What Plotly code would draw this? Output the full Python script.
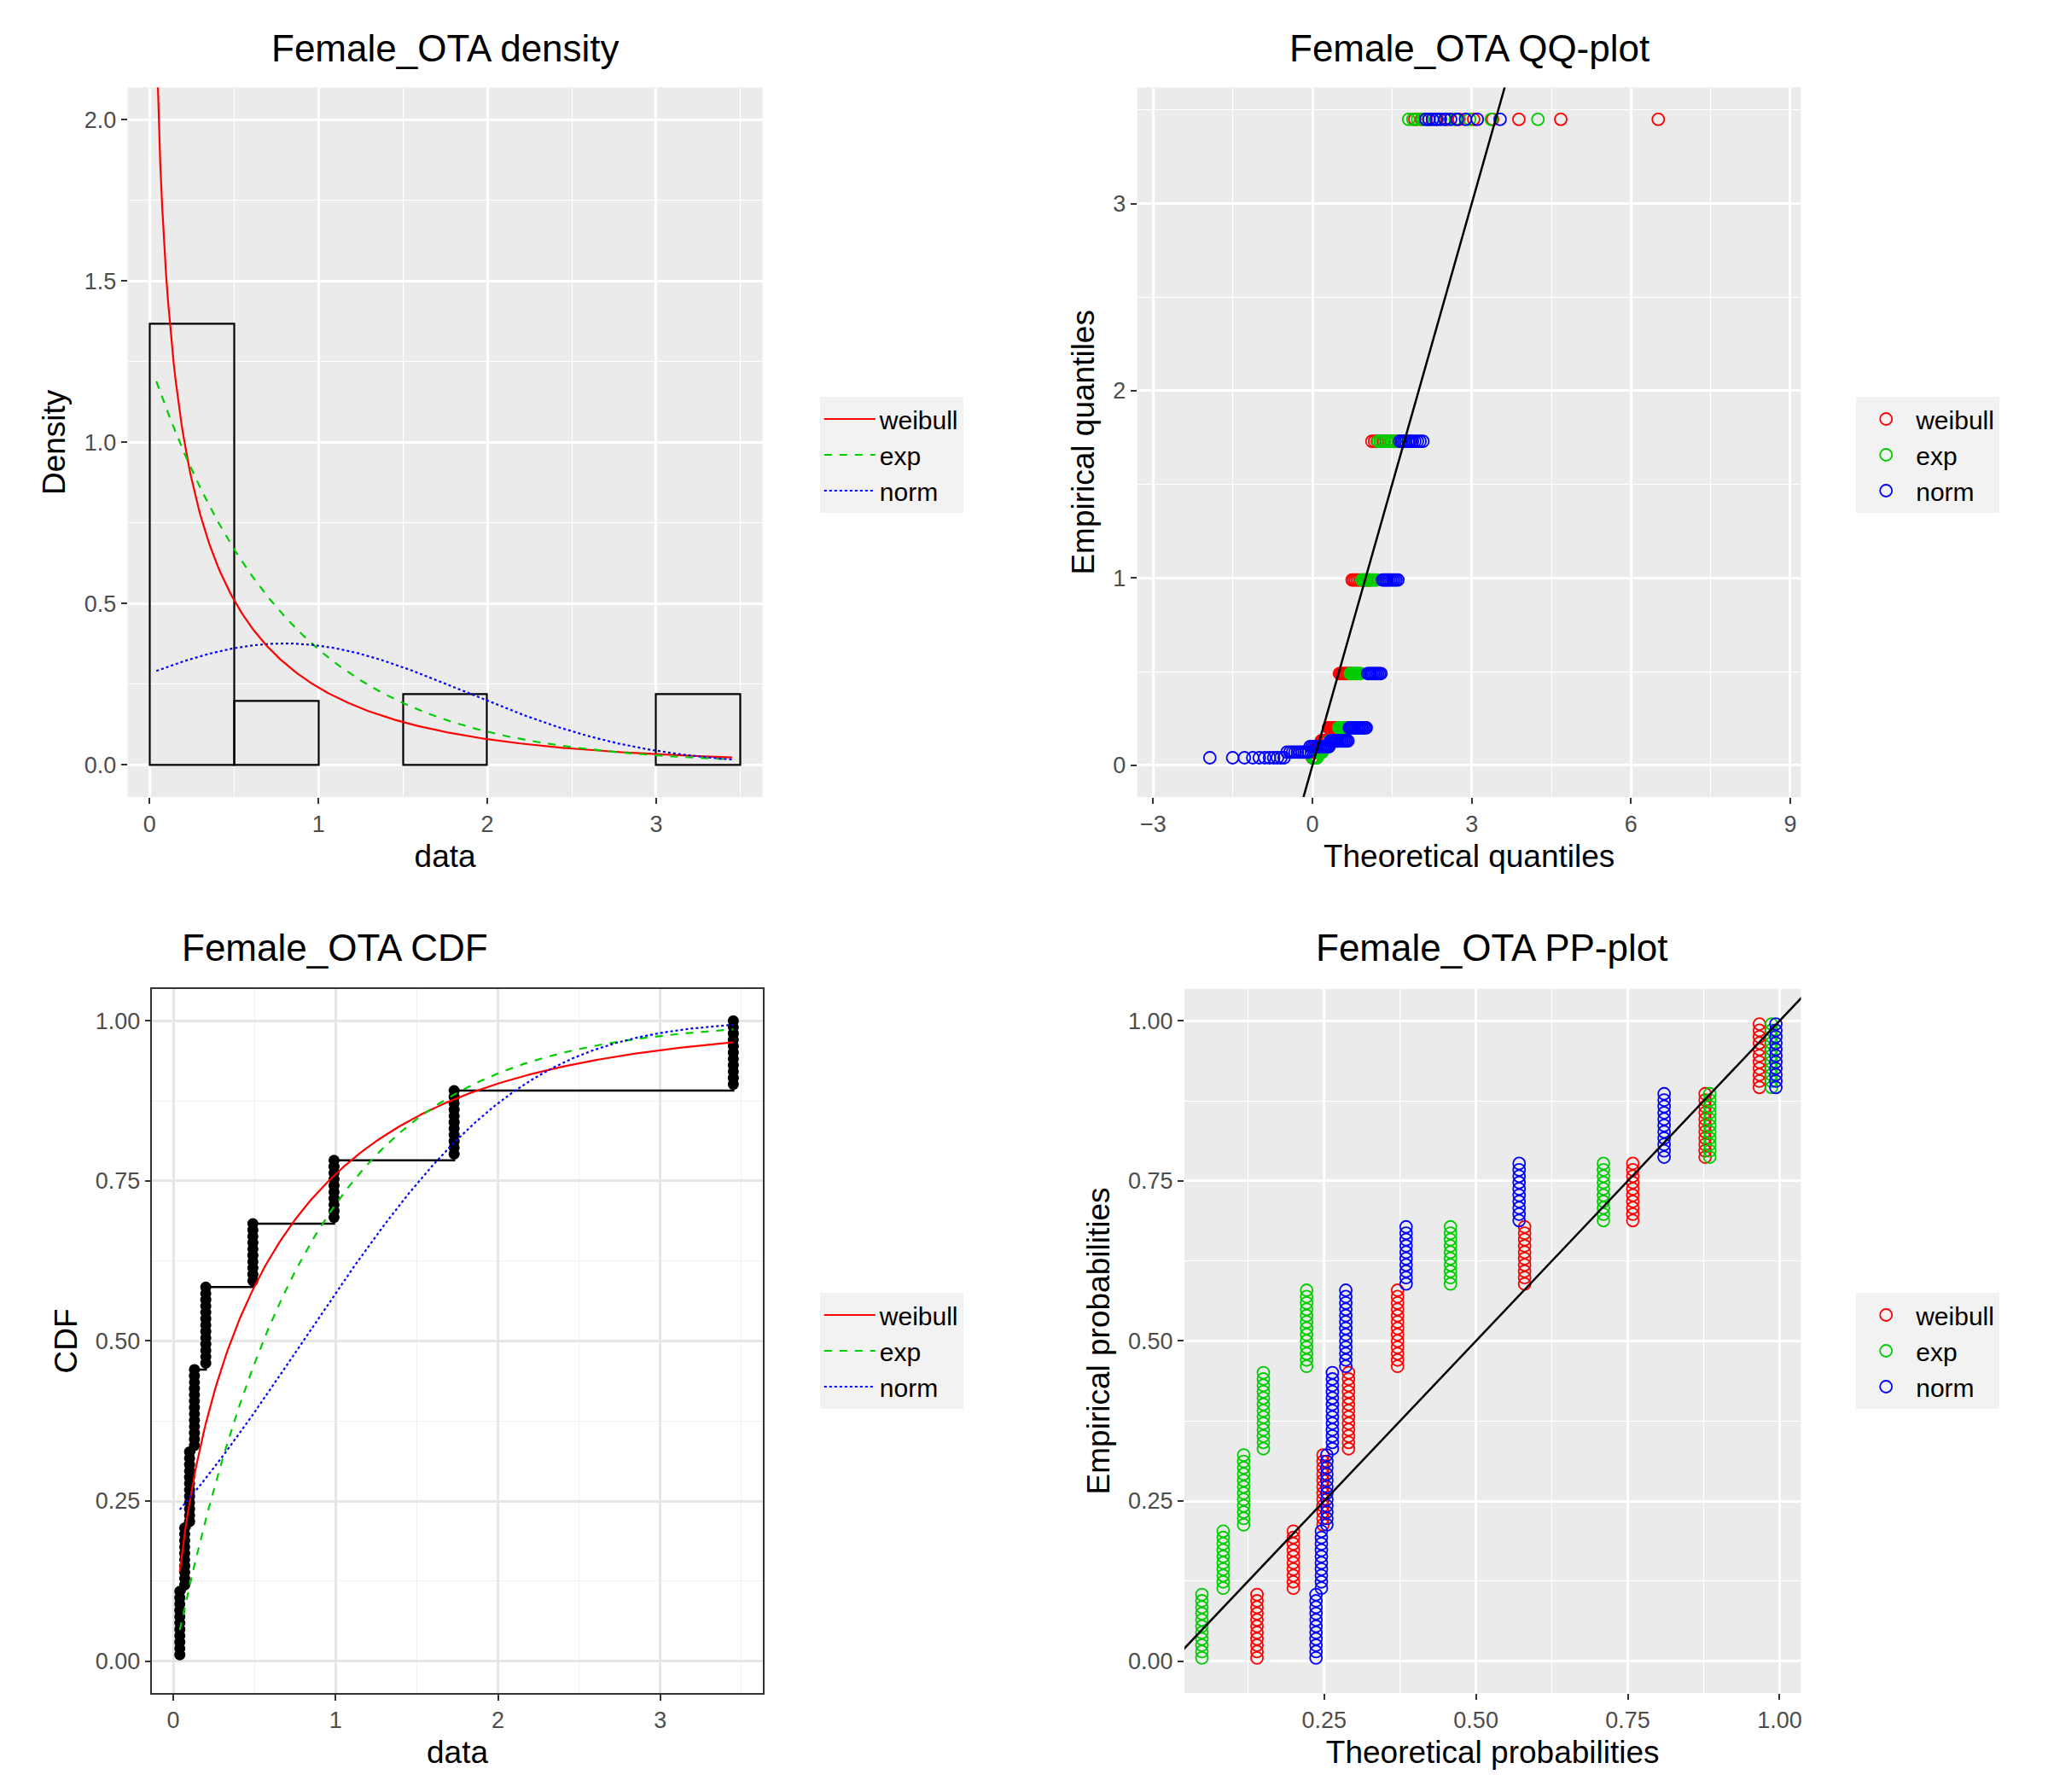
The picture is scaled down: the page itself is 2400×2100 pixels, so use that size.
import numpy as np
import plotly.graph_objects as go
from math import erf, sqrt

# distinct observed values (tied data) and how often each occurs
values = [0.04, 0.07, 0.10, 0.13, 0.20, 0.49, 0.99, 1.73, 3.45]
counts = [11, 10, 12, 13, 13, 10, 10, 11, 11]

# fitted parameters
weib_shape, weib_scale = 0.7, 0.6
exp_rate = 1.25
norm_mean, norm_sd = 0.8, 1.06

dist_names = ['weibull', 'exp', 'norm']
dist_colors = ['#FF0000', '#00CD00', '#0000FF']
dist_dash = ['solid', 'dash', 'dot']

data = np.repeat(values, counts)
n = len(data)


def pdf(name, x):
    if name == 'weibull':
        k, l = weib_shape, weib_scale
        return (k / l) * (x / l) ** (k - 1) * np.exp(-(x / l) ** k)
    if name == 'exp':
        return exp_rate * np.exp(-exp_rate * x)
    return np.exp(-0.5 * ((x - norm_mean) / norm_sd) ** 2) / (norm_sd * np.sqrt(2 * np.pi))


def cdf(name, x):
    if name == 'weibull':
        return 1 - np.exp(-(x / weib_scale) ** weib_shape)
    if name == 'exp':
        return 1 - np.exp(-exp_rate * x)
    return np.array([0.5 * (1 + erf((v - norm_mean) / (norm_sd * sqrt(2)))) for v in np.atleast_1d(x)])


def qnorm(p):
    # bisection inverse of the normal cdf
    lo, hi = np.full_like(p, -10.0), np.full_like(p, 10.0)
    for _ in range(80):
        mid = (lo + hi) / 2
        c = 0.5 * (1 + np.vectorize(erf)(mid / sqrt(2)))
        lo = np.where(c < p, mid, lo)
        hi = np.where(c < p, hi, mid)
    return (lo + hi) / 2


def quantile(name, p):
    if name == 'weibull':
        return weib_scale * (-np.log(1 - p)) ** (1 / weib_shape)
    if name == 'exp':
        return -np.log(1 - p) / exp_rate
    return norm_mean + norm_sd * qnorm(p)


FONT = 'Liberation Sans'
fig = go.Figure()
xs = np.linspace(min(values), max(values), 300)
pp = (np.arange(1, n + 1) - 0.5) / n

# ---- density panel
fig.add_trace(go.Histogram(x=data, histnorm='probability density',
                           xbins=dict(start=0, end=3.5, size=0.5),
                           marker=dict(color='rgba(0,0,0,0)', line=dict(color='black', width=2.2)),
                           showlegend=False, xaxis='x', yaxis='y'))
for nm, col, dsh in zip(dist_names, dist_colors, dist_dash):
    fig.add_trace(go.Scatter(x=xs, y=pdf(nm, xs), mode='lines', name=nm,
                             line=dict(color=col, dash=dsh, width=2.2),
                             xaxis='x', yaxis='y', legend='legend'))

# ---- QQ panel
for nm, col in zip(dist_names, dist_colors):
    fig.add_trace(go.Scatter(x=quantile(nm, pp), y=np.sort(data), mode='markers', name=nm,
                             marker=dict(symbol='circle-open', color=col, size=14, line=dict(width=1.8)),
                             xaxis='x2', yaxis='y2', legend='legend2'))
fig.add_trace(go.Scatter(x=[-3, 9], y=[-3, 9], mode='lines', line=dict(color='black', width=2.5),
                         showlegend=False, xaxis='x2', yaxis='y2'))

# ---- CDF panel
ecdf_y = np.arange(1, n + 1) / n
sd = np.sort(data)
fig.add_trace(go.Scatter(x=sd, y=ecdf_y, mode='lines', line=dict(color='black', width=2.5, shape='hv'),
                         showlegend=False, xaxis='x3', yaxis='y3'))
fig.add_trace(go.Scatter(x=sd, y=ecdf_y, mode='markers', marker=dict(color='black', size=13),
                         showlegend=False, xaxis='x3', yaxis='y3'))
for nm, col, dsh in zip(dist_names, dist_colors, dist_dash):
    fig.add_trace(go.Scatter(x=xs, y=cdf(nm, xs), mode='lines', name=nm,
                             line=dict(color=col, dash=dsh, width=2.2),
                             xaxis='x3', yaxis='y3', legend='legend3'))

# ---- PP panel
for nm, col in zip(dist_names, dist_colors):
    fig.add_trace(go.Scatter(x=cdf(nm, sd), y=pp, mode='markers', name=nm,
                             marker=dict(symbol='circle-open', color=col, size=14, line=dict(width=1.8)),
                             xaxis='x4', yaxis='y4', legend='legend4'))
fig.add_trace(go.Scatter(x=[0, 1.1], y=[0, 1.1], mode='lines', line=dict(color='black', width=2.5),
                         showlegend=False, xaxis='x4', yaxis='y4'))

tick_font = dict(family=FONT, size=27, color='#4D4D4D')
title_font = dict(family=FONT, size=37, color='black')


def ax(domain, rng, tickvals, fmt, title, anchor, bw=False, dtick_minor=None):
    d = dict(domain=domain, range=rng, tickvals=tickvals, tickformat=fmt, anchor=anchor,
             title=dict(text=title, font=title_font, standoff=10), tickfont=tick_font,
             ticks='outside', ticklen=7, tickcolor='#333333', tickwidth=2,
             showgrid=True, gridcolor='#E6E6E6' if bw else 'white', gridwidth=2.5,
             zeroline=False, showline=bw, linecolor='#333333', linewidth=1.5, mirror=bw)
    if dtick_minor:
        d['minor'] = dict(showgrid=True, gridcolor='#F0F0F0' if bw else 'white', gridwidth=1.2,
                          tickvals=dtick_minor, ticks='')
    return d


def mids(t):
    return [(a + b) / 2 for a, b in zip(t[:-1], t[1:])]


tx1 = [0, 1, 2, 3]; ty1 = [0, 0.5, 1.0, 1.5, 2.0]
tx2 = [-3, 0, 3, 6, 9]; ty2 = [0, 1, 2, 3]
tx3 = [0, 1, 2, 3]; ty3 = [0, 0.25, 0.5, 0.75, 1.0]
tx4 = [0.25, 0.5, 0.75, 1.0]; ty4 = [0, 0.25, 0.5, 0.75, 1.0]

leg = dict(font=dict(family=FONT, size=30, color='black'), bgcolor='#F2F2F2',
           xanchor='left', yanchor='middle', tracegroupgap=14, itemwidth=60)

fig.update_layout(
    width=2400, height=2100, paper_bgcolor='white', plot_bgcolor='#EBEBEB',
    margin=dict(l=0, r=0, t=0, b=0), bargap=0,
    xaxis=ax([0.059, 0.369], [-0.13, 3.63], tx1, '', 'data', 'y', dtick_minor=[-0.5] + mids(tx1) + [3.5]),
    yaxis=ax([0.559, 0.955], [-0.1, 2.1], ty1, '.1f', 'Density', 'x', dtick_minor=mids(ty1)),
    xaxis2=ax([0.552, 0.876], [-3.3, 9.2], tx2, '', 'Theoretical quantiles', 'y2', dtick_minor=mids(tx2)),
    yaxis2=ax([0.559, 0.955], [-0.17, 3.62], ty2, '', 'Empirical quantiles', 'x2', dtick_minor=[0.5, 1.5, 2.5, 3.5]),
    xaxis3=ax([0.071, 0.369], [-0.13, 3.63], tx3, '', 'data', 'y3', bw=True, dtick_minor=mids(tx3) + [3.5]),
    yaxis3=ax([0.059, 0.452], [-0.05, 1.05], ty3, '.2f', 'CDF', 'x3', bw=True, dtick_minor=mids(ty3)),
    xaxis4=ax([0.575, 0.876], [0.02, 1.035], tx4, '.2f', 'Theoretical probabilities', 'y4', dtick_minor=[0.125, 0.375, 0.625, 0.875]),
    yaxis4=ax([0.059, 0.452], [-0.05, 1.05], ty4, '.2f', 'Empirical probabilities', 'x4', dtick_minor=mids(ty4)),
    legend=dict(leg, x=0.397, y=0.75),
    legend2=dict(leg, x=0.903, y=0.75),
    legend3=dict(leg, x=0.397, y=0.25),
    legend4=dict(leg, x=0.903, y=0.25),
)

# theme_bw look for the CDF panel: white panel under the grid
fig.add_shape(type='rect', xref='x3 domain', yref='y3 domain', x0=0, x1=1, y0=0, y1=1,
              fillcolor='white', line=dict(width=0), layer='below')

titles = [('Female_OTA density', 0.214, 0.977), ('Female_OTA QQ-plot', 0.714, 0.977),
          ('Female_OTA CDF', 0.16, 0.475), ('Female_OTA PP-plot', 0.725, 0.475)]
for t, x, y in titles:
    fig.add_annotation(text=t, x=x, y=y, xref='paper', yref='paper', showarrow=False,
                       xanchor='center', yanchor='middle',
                       font=dict(family=FONT, size=44, color='black'))

fig.write_html("out.html")
